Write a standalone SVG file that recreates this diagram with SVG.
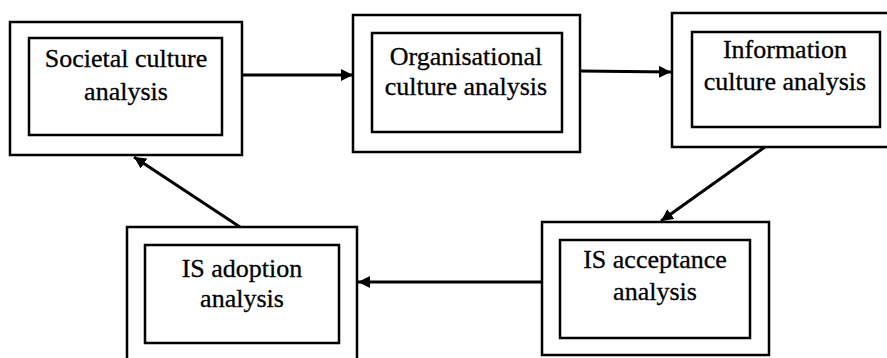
<svg xmlns="http://www.w3.org/2000/svg" width="887" height="358" viewBox="0 0 887 358">
<style>
.box{fill:none;stroke:#000;stroke-width:2.5}
.lbl{font-family:"Liberation Serif","Times New Roman",serif;font-size:26px;fill:#000;stroke:#000;stroke-width:0.3;text-anchor:middle}
.conn{stroke:#000;stroke-width:3;fill:none;marker-end:url(#ah)}
</style>
<defs>
<marker id="ah" viewBox="0 0 10 10" refX="10" refY="5" markerWidth="4" markerHeight="4" orient="auto" markerUnits="strokeWidth">
<path d="M0,0 L10,5 L0,10 z" fill="#000"/>
</marker>
</defs>
<rect width="887" height="358" fill="#fff"/>
<g id="societal">
<rect class="box" x="10" y="22" width="232" height="133"/>
<rect class="box" x="29" y="38" width="193" height="97"/>
<text class="lbl" x="126" y="67">Societal culture</text>
<text class="lbl" x="126" y="100">analysis</text>
</g>
<g id="organisational">
<rect class="box" x="353" y="15" width="227" height="137"/>
<rect class="box" x="372" y="33" width="190" height="99"/>
<text class="lbl" x="466" y="65">Organisational</text>
<text class="lbl" x="466" y="95">culture analysis</text>
</g>
<g id="information">
<rect class="box" x="672" y="13" width="225" height="134"/>
<rect class="box" x="692" y="32" width="188" height="95"/>
<text class="lbl" x="785" y="58">Information</text>
<text class="lbl" x="785" y="90">culture analysis</text>
</g>
<g id="acceptance">
<rect class="box" x="542" y="222" width="227" height="133"/>
<rect class="box" x="560" y="240" width="190" height="98"/>
<text class="lbl" x="655" y="268">IS acceptance</text>
<text class="lbl" x="655" y="300">analysis</text>
</g>
<g id="adoption">
<rect class="box" x="127" y="227" width="230" height="140"/>
<rect class="box" x="145" y="245" width="194" height="98"/>
<text class="lbl" x="242" y="277">IS adoption</text>
<text class="lbl" x="242" y="307">analysis</text>
</g>
<g id="connectors">
<line class="conn" x1="242" y1="75" x2="353" y2="75"/>
<line class="conn" x1="580" y1="71" x2="671" y2="72"/>
<line class="conn" x1="765" y1="147" x2="661" y2="221"/>
<line class="conn" x1="542" y1="282" x2="358" y2="282"/>
<line class="conn" x1="240" y1="227" x2="134" y2="157"/>
</g>
</svg>
